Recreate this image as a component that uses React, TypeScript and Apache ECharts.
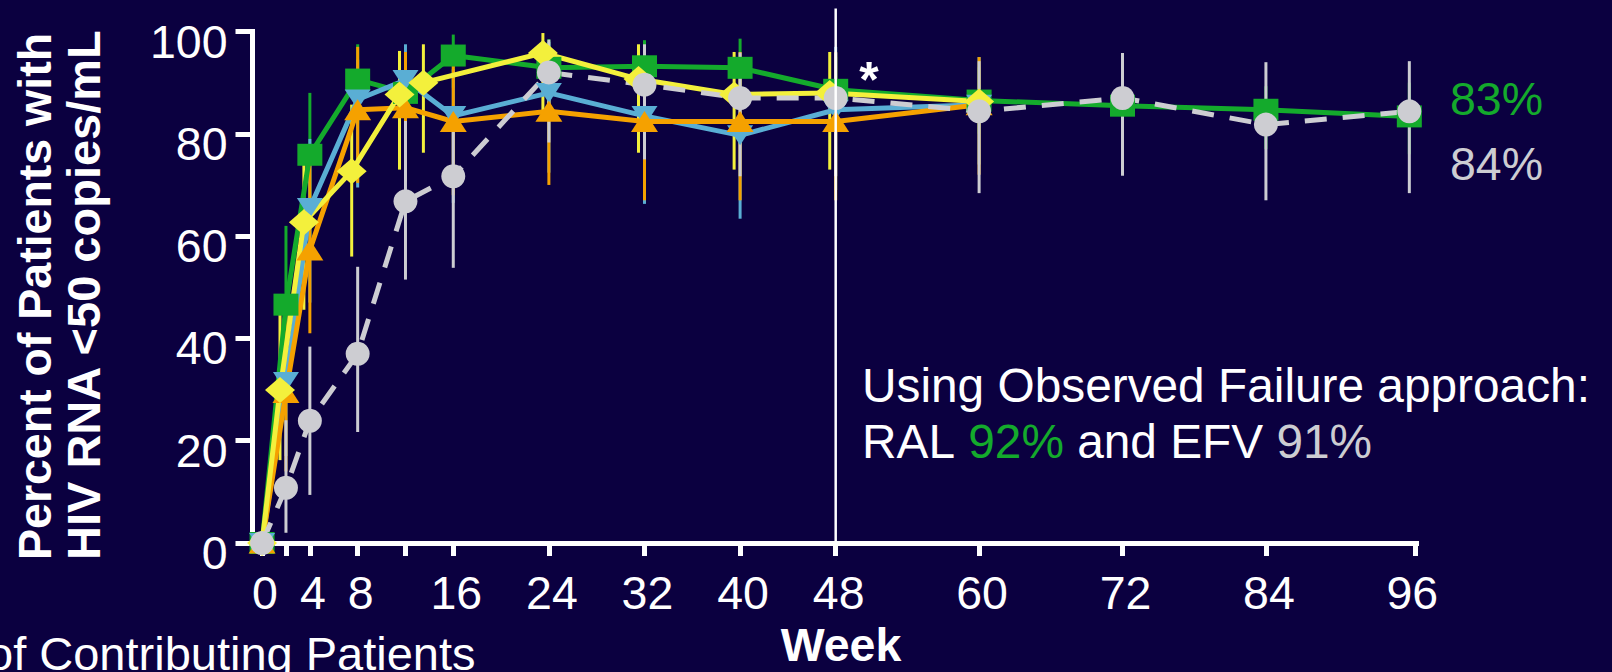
import React, { useEffect, useRef } from 'react';
import * as echarts from 'echarts';

const FONT = '"Liberation Sans", Arial, Helvetica, sans-serif';
const BG = '#0b0040';
const GREEN = '#14aa2c';
const BLUE = '#5aaed4';
const ORANGE = '#f5a100';
const YELLOW = '#f3f03c';
const GREY = '#cdcdd2';

// axis ticks / labels (weeks)
const xTickWeeks = [0, 2, 4, 8, 12, 16, 24, 32, 40, 48, 60, 72, 84, 96.5];
const xLabelWeeks = [0, 4, 8, 16, 24, 32, 40, 48, 60, 72, 84, 96];

// RAL (green squares)
const greenWeeks = [0, 2, 4, 8, 12, 16, 24, 32, 40, 48, 60, 72, 84, 96];
const greenValues = [0, 46.6, 75.9, 90.6, 88, 95.3, 92.9, 93.2, 92.9, 88.6, 86.5, 85.5, 84.7, 83.4];
const greenLow = [null, 31, 60, 82, 82.8, 89, 86, 86, 86, 81, 80, 79, 77, 76];
const greenHigh = [null, 62, 88, 97.5, 95.8, 99.4, 98.5, 98.3, 98.6, 95, 93, 92, 89.3, 90];

// light blue (down triangles)
const blueWeeks = [0, 2, 4, 8, 12, 16, 24, 32, 40, 48, 60];
const blueValues = [0, 31.5, 65.5, 86.7, 90.5, 83.5, 88, 83.5, 79.7, 84.7, 85.7];
const blueLow = [null, 17, 47, 69.5, 75.6, 66.5, 72.4, 66.3, 63.4, 69, 74];
const blueHigh = [null, 47, 79, 94.5, 97.5, 92.6, 98, 97, 95, 97, 95];

// orange (up triangles)
const orangeWeeks = [0, 2, 4, 8, 12, 16, 24, 32, 40, 48, 60];
const orangeValues = [0, 29.4, 57.3, 84.7, 85.1, 82.4, 84.4, 82.4, 82.4, 82.4, 85.7];
const orangeLow = [null, 14, 41, 70.4, 70.7, 68, 70, 67, 67, 67, 72];
const orangeHigh = [null, 45, 74, 97, 96, 94, 97, 96, 96, 96, 95];

// yellow (diamonds)
const yellowWeeks = [0, 1.5, 3.5, 7.5, 11.5, 13.5, 23.5, 31.5, 39.5, 47.5, 60];
const yellowValues = [0, 29.9, 62.7, 72.7, 87.7, 90, 95.8, 90.7, 87.7, 88, 86.3];
const yellowLow = [null, 16.2, 45.6, 56, 73, 76.3, 83.2, 76.3, 73, 73, null];
const yellowHigh = [null, 46.6, 77.5, 85.7, 96.2, 97.5, 99.7, 97.5, 96, 96, null];

// EFV (grey circles, dashed)
const greyWeeks = [0, 2, 4, 8, 12, 16, 24, 32, 40, 48, 60, 72, 84, 96];
const greyValues = [0, 10.8, 23.9, 37, 66.8, 71.7, 92, 89.6, 87, 87, 84.4, 87, 81.8, 84.4];
const greyLow = [null, 2, 9.4, 21.7, 51.5, 53.8, 78.3, 75, 71.7, 71.7, 68.4, 71.8, 67, 68.4];
const greyHigh = [null, 24, 38.4, 54, 82.5, 84.7, 98.4, 97.5, 95.9, 95.9, 94.2, 95.8, 94, 94.2];

// week-48 reference line (week, from %, to %)
const refLine = [[48, 0, 104.5]];

function pairs(xs: number[], ys: number[]) {
  return xs.map((x, i) => [x, ys[i]]);
}
function bars(xs: number[], lo: (number | null)[], hi: (number | null)[]) {
  const out: number[][] = [];
  xs.forEach((x, i) => {
    if (lo[i] != null && hi[i] != null) out.push([x, lo[i] as number, hi[i] as number]);
  });
  return out;
}

function vSegSeries(name: string, color: string, data: number[][], width: number, z = 2) {
  return {
    type: 'custom',
    name,
    data,
    z,
    silent: true,
    encode: { x: 0, y: [1, 2] },
    renderItem: (_p: any, api: any) => {
      const x = api.value(0);
      const a = api.coord([x, api.value(1)]);
      const b = api.coord([x, api.value(2)]);
      return {
        type: 'line',
        shape: { x1: a[0], y1: a[1], x2: b[0], y2: b[1] },
        style: { stroke: color, lineWidth: width },
      };
    },
  };
}

function lineSeries(name: string, color: string, data: number[][], symbol: string, symbolSize: any, opts: any = {}) {
  return {
    type: 'line',
    name,
    data,
    z: 2,
    silent: true,
    symbol,
    symbolSize,
    symbolRotate: opts.rotate || 0,
    showSymbol: true,
    itemStyle: { color, borderWidth: 0 },
    lineStyle: { color, width: 5, type: opts.dash || 'solid' },
  };
}

export default function App() {
  const ref = useRef<HTMLDivElement>(null);
  useEffect(() => {
    if (!ref.current) return;
    const chart = echarts.init(ref.current, undefined, { renderer: 'svg' });
    const txt = (fs: number, weight = 'normal') => ({ fontSize: fs, fontFamily: FONT, fontWeight: weight });
    chart.setOption({
      animation: false,
      backgroundColor: BG,
      grid: { left: 252.5, top: 31.5, width: 1164, height: 511.5, containLabel: false, outerBoundsMode: 'none' },
      xAxis: {
        type: 'value',
        min: -0.8,
        max: 96.6,
        axisLine: { show: true, onZero: false, lineStyle: { color: '#fff', width: 5, cap: 'square' } },
        axisTick: { show: true, customValues: xTickWeeks, length: 13, lineStyle: { color: '#fff', width: 5 } },
        axisLabel: { show: true, customValues: xLabelWeeks, color: '#fff', ...txt(46.5), margin: 26, padding: [0, 0, 0, 6] },
        splitLine: { show: false },
      },
      yAxis: {
        type: 'value',
        min: 0,
        max: 100,
        interval: 20,
        axisLine: { show: true, onZero: false, lineStyle: { color: '#fff', width: 5, cap: 'square' } },
        axisTick: { show: true, length: 17, lineStyle: { color: '#fff', width: 5 } },
        axisLabel: { color: '#fff', ...txt(46.5), margin: 25, verticalAlign: 'top', lineHeight: 20 },
        splitLine: { show: false },
      },
      series: [
        vSegSeries('RAL err', GREEN, bars(greenWeeks, greenLow, greenHigh), 3),
        lineSeries('RAL', GREEN, pairs(greenWeeks, greenValues), 'rect', [25, 22]),
        vSegSeries('blue err', BLUE, bars(blueWeeks, blueLow, blueHigh), 3),
        lineSeries('blue', BLUE, pairs(blueWeeks, blueValues), 'triangle', [26, 20], { rotate: 180 }),
        vSegSeries('orange err', ORANGE, bars(orangeWeeks, orangeLow, orangeHigh), 3),
        lineSeries('orange', ORANGE, pairs(orangeWeeks, orangeValues), 'triangle', [27, 21]),
        vSegSeries('yellow err', YELLOW, bars(yellowWeeks, yellowLow, yellowHigh), 3),
        lineSeries('yellow', YELLOW, pairs(yellowWeeks, yellowValues), 'diamond', [30, 26]),
        vSegSeries('EFV err', GREY, bars(greyWeeks, greyLow, greyHigh), 3),
        lineSeries('EFV', GREY, pairs(greyWeeks, greyValues), 'circle', 24, { dash: [22, 16] }),
        vSegSeries('week48', '#ffffff', refLine, 2.5, 5),
      ],
      graphic: [
        {
          type: 'text', x: 34.5, y: 560, rotation: Math.PI / 2,
          style: { text: 'Percent of Patients with', fill: '#fff', ...txt(46.5, 'bold'), textAlign: 'left', textVerticalAlign: 'middle' },
        },
        {
          type: 'text', x: 83, y: 560, rotation: Math.PI / 2,
          style: { text: 'HIV RNA <50 copies/mL', fill: '#fff', ...txt(47, 'bold'), textAlign: 'left', textVerticalAlign: 'middle' },
        },
        {
          type: 'text', x: 841, y: 644.8,
          style: { text: 'Week', fill: '#fff', ...txt(46.5, 'bold'), textAlign: 'center', textVerticalAlign: 'middle' },
        },
        {
          type: 'text', x: -13, y: 653,
          style: { text: 'of Contributing Patients', fill: '#fff', ...txt(47), textAlign: 'left', textVerticalAlign: 'middle' },
        },
        {
          type: 'text', x: 869, y: 80.4,
          style: { text: '*', fill: '#fff', ...txt(50, 'bold'), textAlign: 'center', textVerticalAlign: 'middle' },
        },
        {
          type: 'text', x: 1450, y: 98.9,
          style: { text: '83%', fill: GREEN, ...txt(46.5), textAlign: 'left', textVerticalAlign: 'middle' },
        },
        {
          type: 'text', x: 1450, y: 163.9,
          style: { text: '84%', fill: GREY, ...txt(46.5), textAlign: 'left', textVerticalAlign: 'middle' },
        },
        {
          type: 'text', x: 862, y: 385.2,
          style: { text: 'Using Observed Failure approach:', fill: '#fff', ...txt(47.8), textAlign: 'left', textVerticalAlign: 'middle' },
        },
        {
          type: 'text', x: 862, y: 441.8,
          style: {
            text: '{w|RAL }{g|92%}{w| and EFV }{s|91%}',
            fill: '#fff',
            ...txt(47.8),
            textAlign: 'left',
            textVerticalAlign: 'middle',
            rich: {
              w: { fill: '#fff', ...txt(47.8) },
              g: { fill: GREEN, ...txt(47.8) },
              s: { fill: GREY, ...txt(47.8) },
            },
          },
        },
      ],
    });
    return () => chart.dispose();
  }, []);
  return (
    <div
      ref={ref}
      style={{ position: 'fixed', left: 0, top: 0, width: 1612, height: 672, background: BG }}
    />
  );
}
